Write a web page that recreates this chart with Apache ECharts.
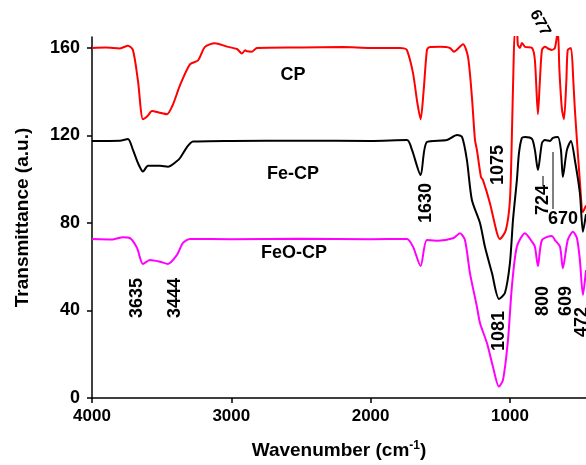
<!DOCTYPE html>
<html>
<head>
<meta charset="utf-8">
<script src="https://cdn.jsdelivr.net/npm/echarts@6/dist/echarts.min.js"></script>
<style>
  html, body { margin: 0; padding: 0; background: #fff; }
  #main { width: 586px; height: 465px; }
</style>
</head>
<body>
<div id="main"></div>
<script>
// tick labels
var xTicks = [4000, 3000, 2000, 1000];
var yTicks = [0, 40, 80, 120, 160];

// CP (red)
var cpWave = [4000, 3900, 3800, 3742, 3706, 3670, 3634, 3600, 3569, 3520, 3462, 3420, 3368, 3297, 3239, 3189, 3117, 3031, 2960, 2923, 2900, 2888, 2852, 2816, 2500, 2200, 2000, 1789, 1760, 1739, 1696, 1665, 1641, 1620, 1596, 1580, 1500, 1431, 1402, 1337, 1301, 1273, 1251, 1237, 1208, 1194, 1144, 1093, 1072, 1029, 1000, 986, 975, 964, 950, 943, 928, 914, 892, 842, 821, 799, 785, 770, 749, 720, 699, 677, 656, 645, 627, 612, 595, 585, 562, 545, 534, 498, 476, 454];
var cpT = [160, 160.2, 159.8, 161, 159, 145, 127.4, 129, 131.2, 130.5, 129.7, 134, 143, 152.5, 154.3, 160.5, 162.2, 160.6, 159.5, 157.5, 159, 158.5, 158.3, 160, 160.2, 160.4, 160, 160, 159.8, 159, 148.6, 135, 127.4, 140, 159, 160.3, 160.5, 160, 158.3, 161.7, 155.9, 137.6, 118, 113.4, 101, 99.7, 89.1, 75.4, 72.7, 76.8, 90.5, 120, 150, 168, 168, 161.4, 160, 162.3, 160.5, 160, 154.5, 129.7, 145, 159.1, 160.5, 159.5, 159.1, 160, 168, 150, 132, 127.5, 145, 159.1, 160, 145, 132, 99, 85, 88];

// Fe-CP (black)
var feWave = [4000, 3800, 3742, 3706, 3670, 3634, 3598, 3512, 3455, 3390, 3368, 3318, 3275, 3000, 2500, 2000, 1739, 1703, 1641, 1596, 1452, 1380, 1344, 1309, 1273, 1215, 1179, 1129, 1079, 1036, 1000, 978, 950, 935, 914, 892, 842, 821, 799, 770, 749, 713, 691, 656, 634, 620, 591, 562, 534, 498, 476, 454];
var feT = [117.5, 117.6, 118.4, 113.4, 107.4, 103.5, 106.1, 106.1, 105.7, 108.3, 109.7, 114.7, 117.2, 117.5, 117.6, 117.5, 117.9, 113.4, 101.9, 117, 117.9, 120.2, 119.3, 108.8, 90.5, 80, 69, 57.1, 45.3, 48, 61.7, 81.4, 99.7, 112, 118.9, 119.3, 118.4, 113.4, 104.2, 116.6, 117.9, 117.5, 118.9, 119.3, 113.4, 101, 113.4, 117.5, 108.8, 93.7, 76, 84];

// FeO-CP (magenta)
var feoWave = [4000, 3850, 3778, 3727, 3677, 3634, 3584, 3512, 3455, 3390, 3347, 3297, 3000, 2500, 2000, 1739, 1696, 1641, 1596, 1517, 1409, 1359, 1323, 1287, 1237, 1215, 1165, 1122, 1079, 1050, 1014, 986, 950, 892, 842, 821, 799, 770, 699, 677, 641, 620, 585, 548, 519, 498, 476, 454];
var feoT = [72.7, 72.5, 73.5, 73.1, 68.6, 61.3, 63.1, 62.3, 61.3, 65.4, 70.9, 72.7, 72.6, 72.8, 72.6, 72.7, 69.2, 60.3, 72.2, 71.9, 73, 75.3, 72.2, 57.1, 41.7, 34.3, 25.1, 14.3, 5.2, 8.2, 26.5, 50.9, 69.2, 75.3, 71.5, 69.2, 60.3, 72.2, 74.1, 72.2, 69.2, 59.3, 72.2, 76, 73, 63.1, 47.1, 58.5];

// peak / sample labels
var notes = [
  { text: 'CP', x: 293, y: 75, r: 0 },
  { text: 'Fe-CP', x: 293, y: 174, r: 0 },
  { text: 'FeO-CP', x: 294, y: 253, r: 0 },
  { text: '3635', x: 137, y: 298, r: 90 },
  { text: '3444', x: 175, y: 298, r: 90 },
  { text: '1630', x: 426, y: 203, r: 90 },
  { text: '1075', x: 498, y: 165, r: 90 },
  { text: '1081', x: 499, y: 331, r: 90 },
  { text: '724', x: 543, y: 200, r: 90 },
  { text: '670', x: 563, y: 219, r: 0 },
  { text: '677', x: 540, y: 23, r: -62 },
  { text: '800', x: 543, y: 301, r: 90 },
  { text: '609', x: 566, y: 301, r: 90 },
  { text: '472', x: 582, y: 322, r: 90 }
];

function zip(a, b) {
  var out = [];
  for (var i = 0; i < a.length; i++) out.push([a[i], b[i]]);
  return out;
}

var font = 'Arial, "Liberation Sans", sans-serif';

var graphics = notes.map(function (n) {
  return {
    type: 'text',
    x: n.x, y: n.y,
    rotation: n.r * Math.PI / 180,
    z: 100,
    style: {
      text: n.text, fill: '#000',
      font: 'bold ' + (n.text === '677' ? 16 : 18) + 'px ' + font,
      align: 'center', verticalAlign: 'middle'
    }
  };
});
// leader lines for 724 / 670
graphics.push({ type: 'line', z: 100, shape: { x1: 543, y1: 176, x2: 543, y2: 186 }, style: { stroke: '#000', lineWidth: 1 } });
graphics.push({ type: 'line', z: 100, shape: { x1: 553, y1: 152, x2: 553, y2: 209 }, style: { stroke: '#000', lineWidth: 1 } });

var chart = echarts.init(document.getElementById('main'));
chart.setOption({
  animation: false,
  backgroundColor: '#fff',
  grid: { left: 92, right: 0, top: 37, bottom: 67 },
  xAxis: {
    type: 'value', inverse: true, min: 454, max: 4000,
    name: 'Wavenumber (cm{sup|-1})',
    nameLocation: 'middle', nameGap: 42,
    nameTextStyle: {
      fontFamily: font, fontWeight: 'bold', fontSize: 19, color: '#000',
      rich: { sup: { fontFamily: font, fontWeight: 'bold', fontSize: 12, color: '#000', verticalAlign: 'top', padding: [0, 0, 9, 0] } }
    },
    axisLine: { lineStyle: { color: '#000', width: 1.5 } },
    axisTick: { inside: false, length: 5, customValues: xTicks, lineStyle: { color: '#000', width: 1.5 } },
    axisLabel: {
      customValues: xTicks, margin: 10, fontFamily: font, fontWeight: 'bold', fontSize: 17, color: '#000',
      formatter: function (v) { return String(v); }
    },
    splitLine: { show: false }
  },
  yAxis: {
    type: 'value', min: 0, max: 165,
    name: 'Transmittance (a.u.)',
    nameLocation: 'middle', nameGap: 60,
    nameTextStyle: { fontFamily: font, fontWeight: 'bold', fontSize: 19, color: '#000' },
    axisLine: { show: true, lineStyle: { color: '#000', width: 1.5 } },
    axisTick: { show: true, length: 5, customValues: yTicks, lineStyle: { color: '#000', width: 1.5 } },
    axisLabel: {
      customValues: yTicks, margin: 12, fontFamily: font, fontWeight: 'bold', fontSize: 18, color: '#000',
      formatter: function (v) { return String(v); }
    },
    splitLine: { show: false }
  },
  series: [
    { name: 'CP', type: 'line', data: zip(cpWave, cpT), showSymbol: false, smooth: 0.25, clip: true, lineStyle: { color: '#ff0000', width: 2 } },
    { name: 'Fe-CP', type: 'line', data: zip(feWave, feT), showSymbol: false, smooth: 0.25, clip: true, lineStyle: { color: '#000000', width: 2 } },
    { name: 'FeO-CP', type: 'line', data: zip(feoWave, feoT), showSymbol: false, smooth: 0.25, clip: true, lineStyle: { color: '#ff00ff', width: 2 } }
  ],
  graphic: graphics
});
</script>
</body>
</html>
